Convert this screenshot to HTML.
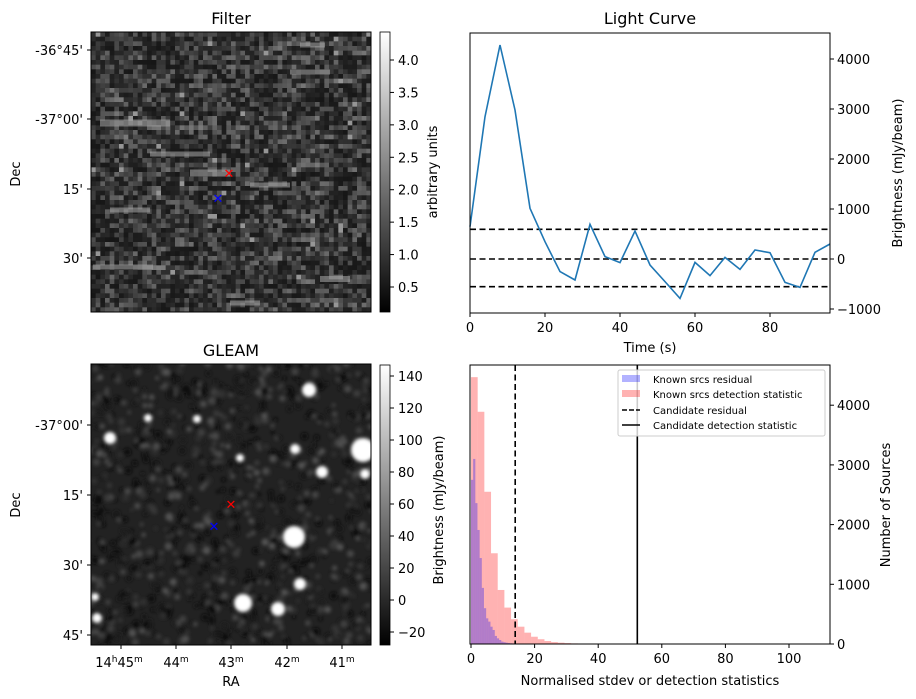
<!DOCTYPE html>
<html><head><meta charset="utf-8">
<style>
body{margin:0;background:#fff;}
svg{display:block;font-family:"DejaVu Sans","Liberation Sans",sans-serif;}
text{fill:#000;}
</style></head>
<body>
<svg id="fig" width="916" height="699" viewBox="0 0 916 699" xmlns="http://www.w3.org/2000/svg">
<defs>
<linearGradient id="cbg" x1="0" y1="1" x2="0" y2="0"><stop offset="0" stop-color="#000"/><stop offset="1" stop-color="#fff"/></linearGradient>
<filter id="noiseBlur" x="-5%" y="-5%" width="110%" height="110%"><feGaussianBlur stdDeviation="1.8"/></filter>
<filter id="blobBlur"><feGaussianBlur stdDeviation="1.8"/></filter>
<clipPath id="clipF"><rect x="91" y="32" width="280" height="280"/></clipPath>
<clipPath id="clipG"><rect x="91" y="364" width="280" height="281"/></clipPath>
</defs>

<!-- Filter panel -->
<text x="231" y="24" font-size="16" text-anchor="middle">Filter</text>
<g id="filterImg" clip-path="url(#clipF)"></g>
<rect x="91" y="32" width="280" height="280" fill="none" stroke="#000"/>
<g font-size="13" text-anchor="end">
<text x="83" y="55">-36°45'</text><text x="83" y="124">-37°00'</text><text x="83" y="194">15'</text><text x="83" y="263">30'</text>
<line x1="87" y1="50" x2="91" y2="50" stroke="#000"/><line x1="87" y1="119" x2="91" y2="119" stroke="#000"/><line x1="87" y1="189" x2="91" y2="189" stroke="#000"/><line x1="87" y1="258" x2="91" y2="258" stroke="#000"/>
</g>
<text transform="translate(20,174) rotate(-90)" font-size="13" text-anchor="middle">Dec</text>
<text x="229" y="178" font-size="13" text-anchor="middle" style="fill:red">✕</text>
<text x="218" y="203" font-size="13" text-anchor="middle" style="fill:blue">✕</text>
<rect x="380" y="32" width="10" height="280" fill="url(#cbg)" stroke="#000" stroke-width="0.8"/>
<g id="cbF" font-size="13"></g>
<text transform="translate(437,172) rotate(-90)" font-size="13" text-anchor="middle">arbitrary units</text>

<!-- GLEAM panel -->
<text x="231" y="356" font-size="16" text-anchor="middle">GLEAM</text>
<g clip-path="url(#clipG)">
<rect x="91" y="364" width="280" height="281" fill="#222"/>
<g id="gnoise" filter="url(#noiseBlur)"></g>
<g id="blobs" filter="url(#blobBlur)" fill="#fff"></g>
</g>
<rect x="91" y="364" width="280" height="281" fill="none" stroke="#000"/>
<g font-size="13" text-anchor="end">
<text x="83" y="430">-37°00'</text><text x="83" y="500">15'</text><text x="83" y="570">30'</text><text x="83" y="640">45'</text>
<line x1="87" y1="425" x2="91" y2="425" stroke="#000"/><line x1="87" y1="495" x2="91" y2="495" stroke="#000"/><line x1="87" y1="565" x2="91" y2="565" stroke="#000"/><line x1="87" y1="635" x2="91" y2="635" stroke="#000"/>
</g>
<text transform="translate(20,505) rotate(-90)" font-size="13" text-anchor="middle">Dec</text>
<g font-size="13" text-anchor="middle">
<text x="119" y="667">14<tspan font-size="9" dy="-5">h</tspan><tspan dy="5">45</tspan><tspan font-size="9" dy="-5">m</tspan></text>
<text x="176" y="667">44<tspan font-size="9" dy="-5">m</tspan></text>
<text x="231" y="667">43<tspan font-size="9" dy="-5">m</tspan></text>
<text x="287" y="667">42<tspan font-size="9" dy="-5">m</tspan></text>
<text x="342" y="667">41<tspan font-size="9" dy="-5">m</tspan></text>
<line x1="121" y1="645" x2="121" y2="649" stroke="#000"/><line x1="176" y1="645" x2="176" y2="649" stroke="#000"/><line x1="231" y1="645" x2="231" y2="649" stroke="#000"/><line x1="287" y1="645" x2="287" y2="649" stroke="#000"/><line x1="342" y1="645" x2="342" y2="649" stroke="#000"/>
</g>
<text x="231" y="686" font-size="13" text-anchor="middle">RA</text>
<text x="231" y="509" font-size="13" text-anchor="middle" style="fill:red">✕</text>
<text x="214" y="531" font-size="13" text-anchor="middle" style="fill:blue">✕</text>
<rect x="380" y="365" width="10" height="280" fill="url(#cbg)" stroke="#000" stroke-width="0.8"/>
<g id="cbG" font-size="13"></g>
<text transform="translate(443,510) rotate(-90)" font-size="13" text-anchor="middle">Brightness (mJy/beam)</text>

<!-- Light curve -->
<text x="650" y="24" font-size="16" text-anchor="middle">Light Curve</text>
<g id="lc"></g>
<rect x="470" y="33" width="360" height="280" fill="none" stroke="#000"/>
<text x="650" y="352" font-size="13" text-anchor="middle">Time (s)</text>
<text transform="translate(902,173) rotate(-90)" font-size="13" text-anchor="middle">Brightness (mJy/beam)</text>

<!-- Histogram -->
<g id="hist"></g>
<rect x="470" y="365" width="360" height="279" fill="none" stroke="#000"/>
<text x="650" y="685" font-size="13" text-anchor="middle">Normalised stdev or detection statistics</text>
<text transform="translate(890,505) rotate(-90)" font-size="13" text-anchor="middle">Number of Sources</text>
<g>
<rect x="618" y="370" width="207" height="66" fill="#fff" fill-opacity="0.8" stroke="#ccc" rx="2"/>
<rect x="622" y="375" width="18" height="7" fill="#0000ff" fill-opacity="0.3"/>
<text x="653" y="383" font-size="10">Known srcs residual</text>
<rect x="622" y="390" width="18" height="7" fill="#ff0000" fill-opacity="0.3"/>
<text x="653" y="398" font-size="10">Known srcs detection statistic</text>
<line x1="622" y1="410" x2="640" y2="410" stroke="#000" stroke-width="1.5" stroke-dasharray="5,2"/>
<text x="653" y="414" font-size="10">Candidate residual</text>
<line x1="622" y1="425" x2="640" y2="425" stroke="#000" stroke-width="1.5"/>
<text x="653" y="429" font-size="10">Candidate detection statistic</text>
</g>
</svg>
<script>
// ---- light curve data ----
const lcTimes=[0,4,8,12,16,20,24,28,32,36,40,44,48,52,56,60,64,68,72,76,80,84,88,92,96];
const lcFlux=[647,2847,4280,2980,1013,347,-253,-420,693,47,-73,560,-120,-453,-787,-67,-333,33,-207,180,127,-467,-567,133,300];
const lcThresholds=[593,0,-553];
const lcXTicks=[0,20,40,60,80];
const lcYTicks=[-1000,0,1000,2000,3000,4000];
// ---- histogram data ----
const redWidth=2.1;
const redCounts=[4470,3890,2550,1520,905,610,415,290,190,122,80,50,32,22,15,10,8,6,5,3,0,0,0,0,0,0,0,0,0,0,0,0,5,5,0,0,0,0,5,0,5,0,0,0,0,0,0,0,0,0,5];
const blueWidth=0.68;
const blueCounts=[2750,3100,2360,1910,1440,940,600,430,375,290,235,135,95,67,40,30,22,16,12,9,7,5,4,3,3,2,2,2,1,1];
const candResidual=[13.9];
const candDetection=[52.3];
const hXTicks=[0,20,40,60,80,100];
const hYTicks=[0,1000,2000,3000,4000];
// ---- colorbar ticks ----
const cbFTicks=[0.5,1.0,1.5,2.0,2.5,3.0,3.5,4.0];
const cbGTicks=[-20,0,20,40,60,80,100,120,140];

const NS="http://www.w3.org/2000/svg";
function mk(tag,attrs,parent){const e=document.createElementNS(NS,tag);for(const k in attrs)e.setAttribute(k,attrs[k]);parent.appendChild(e);return e;}

// filter image noise (visual texture)
(function(){
 const g=document.getElementById('filterImg');
 let s=12345;function r(){s=(s*1103515245+12345)%2147483648;return s/2147483648;}
 const n=60,w=280/n;
 mk('rect',{x:91,y:32,width:280,height:280,fill:'#2e2e2e'},g);
 for(let j=0;j<n;j++){let carry=0;for(let i=0;i<n;i++){let v=r();carry=carry*0.6+v*0.4;let val=0.55*v+0.45*carry;let gg=Math.round(22+Math.pow(val,2.0)*115);
  if(r()>0.99)gg=150;
  mk('rect',{x:(91+i*w).toFixed(2),y:(32+j*w).toFixed(2),width:(w+0.3).toFixed(2),height:(w+0.3).toFixed(2),fill:`rgb(${gg},${gg},${gg})`},g);}}
 const streaks=[[100,123,70,7],[150,154,60,5],[190,173,40,7],[290,72,40,5],[300,45,25,5],[93,267,60,5],[320,279,30,6],[230,303,30,5],[110,210,40,5],[250,185,40,5]];
 streaks.forEach(a=>mk('rect',{x:a[0],y:a[1]-a[3]/2,width:a[2],height:a[3],fill:'#aaa',opacity:0.55},g));
})();
// gleam background texture
(function(){
 const g=document.getElementById('gnoise');
 let s=777;function r(){s=(s*1103515245+12345)%2147483648;return s/2147483648;}
 for(let k=0;k<1200;k++){
  const gg=Math.round(r()<0.5?8+r()*20:45+r()*40);
  mk('circle',{cx:(85+r()*292).toFixed(1),cy:(358+r()*293).toFixed(1),r:(1.5+r()*2.5).toFixed(1),fill:`rgb(${gg},${gg},${gg})`},g);
 }
})();
// gleam blobs
(function(){
 const g=document.getElementById('blobs');
 const b=[[309,390,7],[110,438,6],[148,418,4],[197,419,4],[363,450,12],[295,449,5],[322,472,6],[365,474,5],[294,537,11],[300,584,6],[243,603,9],[278,609,7],[97,618,5],[95,597,4],[240,458,4]];
 b.forEach(a=>mk('circle',{cx:a[0],cy:a[1],r:a[2]},g));
})();
// colorbars
(function(){
 const gf=document.getElementById('cbF');
 cbFTicks.forEach(v=>{const y=287-(v-0.5)/3.5*(287-60);
  mk('line',{x1:390,y1:y,x2:394,y2:y,stroke:'#000'},gf);
  const t=mk('text',{x:398,y:y+5},gf);t.textContent=v.toFixed(1);});
 const gg=document.getElementById('cbG');
 cbGTicks.forEach(v=>{const y=632-(v+20)/160*(632-376);
  mk('line',{x1:390,y1:y,x2:394,y2:y,stroke:'#000'},gg);
  const t=mk('text',{x:398,y:y+5},gg);t.textContent=v<0?'\u2212'+(-v):String(v);});
})();
// light curve
(function(){
 const g=document.getElementById('lc');
 const X=t=>470+t*3.75, Y=v=>259-v*0.05;
 lcThresholds.forEach(v=>{const l=mk('line',{x1:470,x2:830,y1:Y(v),y2:Y(v),stroke:'#000','stroke-width':1.6,'stroke-dasharray':'6,3.5'},g);
  });
 const p=mk('polyline',{points:lcTimes.map((t,i)=>X(t).toFixed(1)+','+Y(lcFlux[i]).toFixed(1)).join(' '),fill:'none',stroke:'#1f77b4','stroke-width':1.6},g);
 
 lcXTicks.forEach(t=>{mk('line',{x1:X(t),x2:X(t),y1:313,y2:317,stroke:'#000'},g);const e=mk('text',{x:X(t),y:332,'font-size':13,'text-anchor':'middle'},g);e.textContent=t;});
 lcYTicks.forEach(v=>{mk('line',{x1:830,x2:834,y1:Y(v),y2:Y(v),stroke:'#000'},g);const e=mk('text',{x:837,y:Y(v)+5,'font-size':13},g);e.textContent=v<0?'\u2212'+(-v):v;});
})();
// histogram
(function(){
 const g=document.getElementById('hist');
 const X=v=>471+v*3.18, Y=c=>644-c*0.0597;
 redCounts.forEach((c,i)=>{if(c<=0)return;const x0=X(i*redWidth),x1=X((i+1)*redWidth);
  const r=mk('rect',{x:x0,y:Y(c),width:x1-x0,height:644-Y(c),fill:'#ff0000','fill-opacity':0.3},g);
  });
 blueCounts.forEach((c,i)=>{if(c<=0)return;const x0=X(i*blueWidth),x1=X((i+1)*blueWidth);
  const r=mk('rect',{x:x0,y:Y(c),width:x1-x0,height:644-Y(c),fill:'#0000ff','fill-opacity':0.3},g);
  });
 candResidual.forEach(v=>{const l=mk('line',{x1:X(v),x2:X(v),y1:365,y2:644,stroke:'#000','stroke-width':1.6,'stroke-dasharray':'6,3.5'},g);
  });
 candDetection.forEach(v=>{const l=mk('line',{x1:X(v),x2:X(v),y1:365,y2:644,stroke:'#000','stroke-width':1.6},g);
  });
 hXTicks.forEach(t=>{mk('line',{x1:X(t),x2:X(t),y1:644,y2:648,stroke:'#000'},g);const e=mk('text',{x:X(t),y:663,'font-size':13,'text-anchor':'middle'},g);e.textContent=t;});
 hYTicks.forEach(v=>{mk('line',{x1:830,x2:834,y1:Y(v),y2:Y(v),stroke:'#000'},g);const e=mk('text',{x:837,y:Y(v)+5,'font-size':13},g);e.textContent=v;});
})();
</script>
</body></html>
